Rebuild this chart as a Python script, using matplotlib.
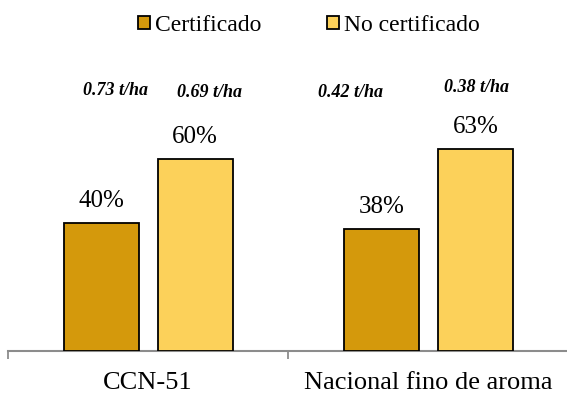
import matplotlib
matplotlib.use('Agg')
import matplotlib.pyplot as plt
from matplotlib.patches import Patch
import numpy as np

plt.rcParams['font.family'] = ['Liberation Serif', 'DejaVu Serif']

varieties = ['CCN-51', 'Nacional fino de aroma']
series = ['Certificado', 'No certificado']
certificado = [40, 38]
no_certificado = [60, 63]
yield_labels = [['0.73 t/ha', '0.69 t/ha'], ['0.42 t/ha', '0.38 t/ha']]

colors = ['#D4990C', '#FCD15A']
bar_w = 0.268
offset = 0.1675

fig = plt.figure(figsize=(5.67, 3.94), dpi=100)
ax = fig.add_axes([8 / 567, 43.3 / 394, 560.6 / 567, 320 / 394])

x = np.arange(len(varieties))
for vals, pos, col in [(certificado, x - offset, colors[0]), (no_certificado, x + offset, colors[1])]:
    bars = ax.bar(pos, vals, width=bar_w, color=col, edgecolor='black', linewidth=1.3, zorder=3)
    for b, v in zip(bars, vals):
        ax.text(b.get_x() + b.get_width() / 2, v + 5, f'{v}%', ha='center', va='baseline', fontsize=18)

# yield per hectare, above each bar group
yield_dx = [[0.05, 0.05], [-0.11, 0.005]]
yield_y = [[81.3, 80.8], [80.8, 82.2]]
for i in range(len(varieties)):
    for j, s in enumerate([-offset, offset]):
        ax.text(x[i] + s + yield_dx[i][j], yield_y[i][j], yield_labels[i][j], ha='center', va='center',
                fontsize=13, fontweight='bold', fontstyle='italic')

ax.set_xlim(-0.5, 1.5)
ax.set_ylim(0, 100)
ax.set_yticks([])
for side in ['top', 'right', 'left']:
    ax.spines[side].set_visible(False)
ax.spines['bottom'].set_color('#8c8c8c')
ax.spines['bottom'].set_linewidth(1.5)

ax.set_xticks([-0.5, 0.5, 1.5])
ax.set_xticklabels([])
ax.tick_params(axis='x', which='major', direction='out', length=5.8, width=1.3, color='#8c8c8c')
ax.set_xticks(x, minor=True)
ax.set_xticklabels(varieties, minor=True, fontsize=19)
ax.tick_params(axis='x', which='minor', length=0, pad=15.5)

handles = [Patch(facecolor=c, edgecolor='black', linewidth=1.3, label=l) for c, l in zip(colors, series)]
fig.legend(handles=handles, loc='center', bbox_to_anchor=(0.545, 1 - 25.5 / 394), ncol=2, frameon=False,
           fontsize=17, handlelength=0.5, handleheight=0.5, handletextpad=0.2, columnspacing=2.8,
           borderaxespad=0)

fig.savefig('out.png', dpi=100)
